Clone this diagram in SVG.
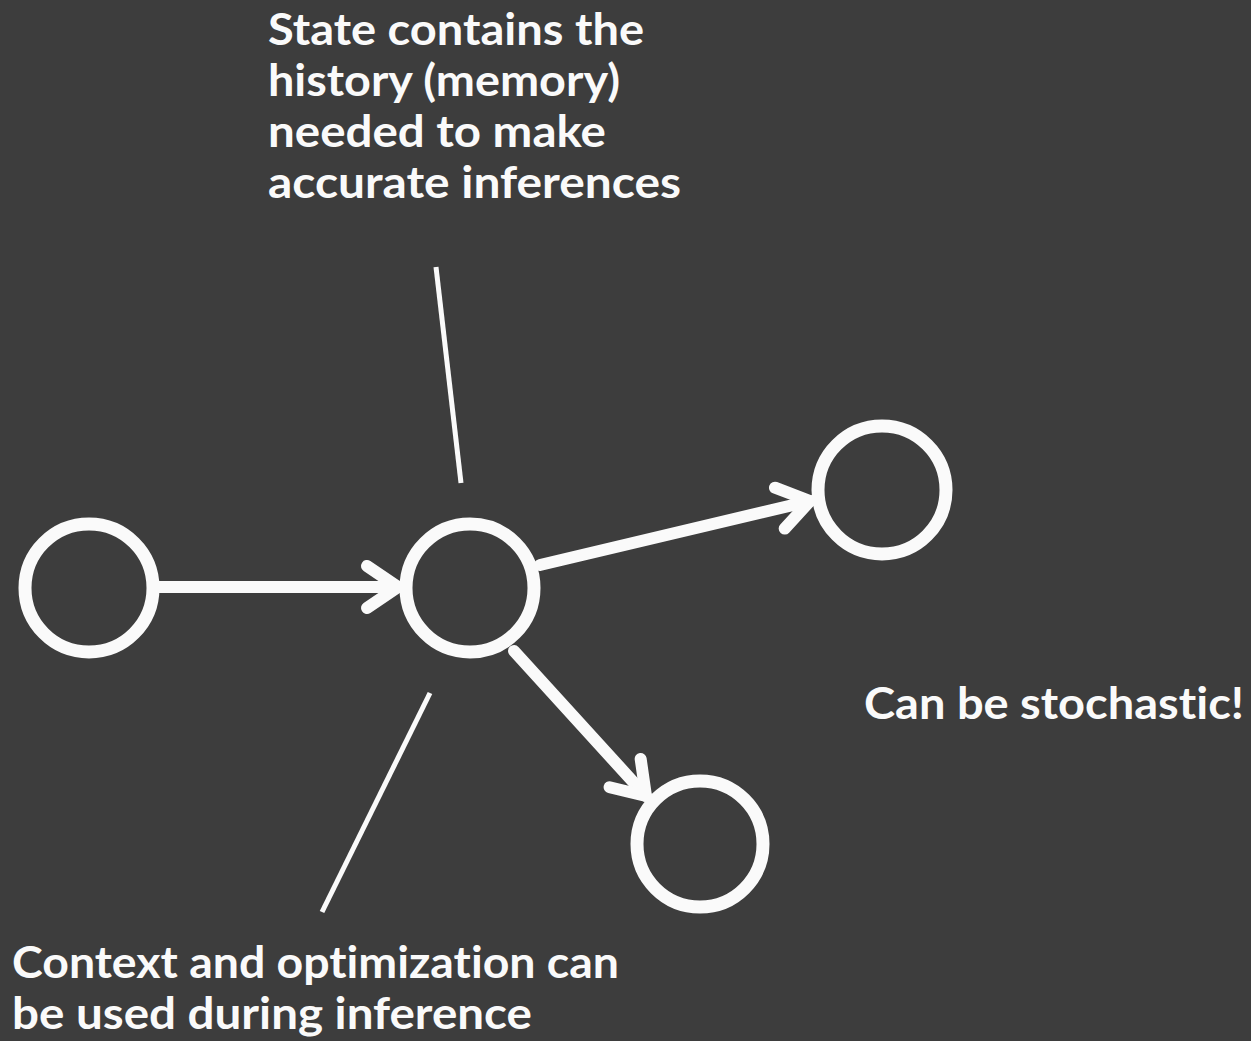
<svg xmlns="http://www.w3.org/2000/svg" width="1251" height="1041" viewBox="0 0 1251 1041">
  <style>
    .node { fill: none; stroke: #fafafa; stroke-width: 13; }
    .edge { fill: none; stroke: #fafafa; stroke-width: 12; stroke-linecap: round; }
    .pointer { fill: none; stroke: #fafafa; stroke-width: 5; }
    .label { fill: #fafafa; font-family: "Lato", "Open Sans", "Liberation Sans", sans-serif; font-weight: 700; font-size: 43px; font-variant-ligatures: none; font-feature-settings: "liga" 0, "clig" 0; }
  </style>
  <defs>
    <marker id="chevron" markerUnits="userSpaceOnUse" markerWidth="80" markerHeight="80" viewBox="-40 -40 80 80" refX="0" refY="0" orient="auto" overflow="visible">
      <path d="M -31 -21 L 0 0 L -31 21" fill="none" stroke="#fafafa" stroke-width="12" stroke-linecap="round" stroke-linejoin="round"/>
    </marker>
  </defs>

  <rect width="1251" height="1041" fill="#3d3d3d"/>

  <!-- connectors -->
  <g id="connectors">
    <line class="edge" x1="158" y1="587" x2="398" y2="587" marker-end="url(#chevron)"/>
    <line class="edge" x1="540" y1="565" x2="810" y2="501" marker-end="url(#chevron)"/>
    <line class="edge" x1="514" y1="651" x2="646" y2="796" marker-end="url(#chevron)"/>
    <line class="pointer" x1="436" y1="267" x2="461" y2="483"/>
    <line class="pointer" x1="430" y1="693" x2="322" y2="912"/>
  </g>

  <!-- nodes -->
  <g id="node-start">
    <circle class="node" cx="89" cy="588" r="64"/>
  </g>
  <g id="node-state">
    <circle class="node" cx="470" cy="588" r="64"/>
  </g>
  <g id="node-upper">
    <circle class="node" cx="882" cy="490" r="64"/>
  </g>
  <g id="node-lower">
    <circle class="node" cx="700" cy="844" r="63"/>
  </g>

  <!-- annotations -->
  <g id="label-state">
    <text class="label" x="268" y="45" textLength="376" lengthAdjust="spacingAndGlyphs">State contains the</text>
    <text class="label" x="268" y="96" textLength="352" lengthAdjust="spacingAndGlyphs">history (memory)</text>
    <text class="label" x="268" y="147" textLength="338" lengthAdjust="spacingAndGlyphs">needed to make</text>
    <text class="label" x="268" y="198" textLength="413" lengthAdjust="spacingAndGlyphs">accurate inferences</text>
  </g>
  <g id="label-context">
    <text class="label" x="12" y="978" textLength="607" lengthAdjust="spacingAndGlyphs">Context and optimization can</text>
    <text class="label" x="12" y="1029" textLength="520" lengthAdjust="spacingAndGlyphs">be used during inference</text>
  </g>
  <g id="label-stochastic">
    <text class="label" x="864" y="719" textLength="380" lengthAdjust="spacingAndGlyphs">Can be stochastic!</text>
  </g>
</svg>
